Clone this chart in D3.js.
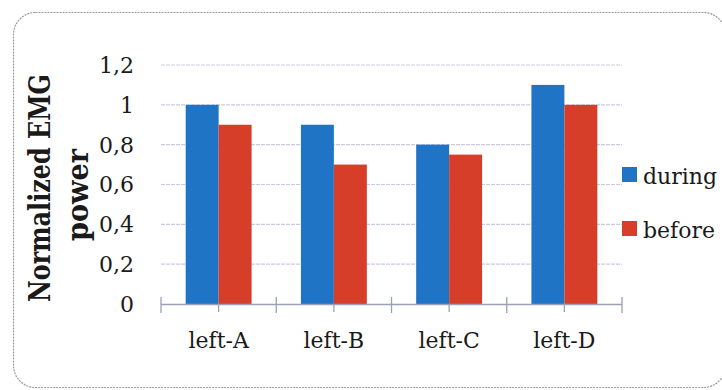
<!DOCTYPE html>
<html>
<head>
<meta charset="utf-8">
<script src="https://cdn.jsdelivr.net/npm/d3@7"></script>
<style>
  html, body { margin: 0; padding: 0; background: #ffffff; }
  svg { display: block; }
</style>
</head>
<body>
<svg id="chart" width="722" height="390"></svg>
<script>
// EMG power per muscle site, normalized
const categories = ["left-A", "left-B", "left-C", "left-D"];
const seriesNames = ["during", "before"];
const duringValues = [1.0, 0.9, 0.8, 1.1];
const beforeValues = [0.9, 0.7, 0.75, 1.0];
const yTickValues = [0, 0.2, 0.4, 0.6, 0.8, 1.0, 1.2];
const yTickLabels = ["0", "0,2", "0,4", "0,6", "0,8", "1", "1,2"];
const yTitleLines = ["Normalized EMG", "power"];

const colors = { during: "#1f74c6", before: "#d63e2a" };
const serif = "'DejaVu Serif', 'Liberation Serif', serif";

const svg = d3.select("#chart");

// Rounded frame around the chart
svg.append("rect")
  .attr("x", 13.5).attr("y", 12.5)
  .attr("width", 712).attr("height", 375)
  .attr("rx", 22).attr("ry", 22)
  .attr("fill", "none")
  .attr("stroke", "#9a9a9a")
  .attr("stroke-width", 1.2)
  .attr("stroke-dasharray", "2,1");

const plot = { left: 161, right: 622, top: 65, bottom: 304 };

const x = d3.scaleBand()
  .domain(categories)
  .range([plot.left, plot.right])
  .paddingInner(0.428)
  .paddingOuter(0.214);

const xSub = d3.scaleBand()
  .domain(seriesNames)
  .range([0, x.bandwidth()]);

const y = d3.scaleLinear()
  .domain([0, 1.2])
  .range([plot.bottom, plot.top]);

// Horizontal gridlines
svg.append("g")
  .selectAll("line")
  .data(yTickValues.filter(v => v > 0))
  .join("line")
  .attr("x1", plot.left).attr("x2", plot.right)
  .attr("y1", d => y(d)).attr("y2", d => y(d))
  .attr("stroke", "#c9cbe0")
  .attr("stroke-width", 1.2)
  .attr("stroke-dasharray", "4,1");

// Bars
const rows = categories.map((c, i) => ({
  category: c,
  values: [
    { key: "during", value: duringValues[i] },
    { key: "before", value: beforeValues[i] }
  ]
}));

svg.append("g")
  .selectAll("g")
  .data(rows)
  .join("g")
  .attr("transform", d => `translate(${x(d.category)},0)`)
  .selectAll("rect")
  .data(d => d.values)
  .join("rect")
  .attr("x", d => xSub(d.key))
  .attr("y", d => y(d.value))
  .attr("width", xSub.bandwidth())
  .attr("height", d => y(0) - y(d.value))
  .attr("fill", d => colors[d.key]);

// Category axis: baseline with boundary ticks and short centre ticks
const axisColor = "#9ba0b8";
const xAxis = svg.append("g");
xAxis.append("line")
  .attr("x1", plot.left).attr("x2", plot.right)
  .attr("y1", y(0) + 0.5).attr("y2", y(0) + 0.5)
  .attr("stroke", axisColor).attr("stroke-width", 1.3);

const step = x.step();
const boundaries = d3.range(categories.length + 1).map(i => plot.left + i * step);
xAxis.selectAll("line.major")
  .data(boundaries)
  .join("line")
  .attr("class", "major")
  .attr("x1", d => d).attr("x2", d => d)
  .attr("y1", y(0) - 7).attr("y2", y(0) + 9)
  .attr("stroke", axisColor).attr("stroke-width", 1.3);

xAxis.selectAll("line.minor")
  .data(categories)
  .join("line")
  .attr("class", "minor")
  .attr("x1", d => x(d) + x.bandwidth() / 2).attr("x2", d => x(d) + x.bandwidth() / 2)
  .attr("y1", y(0) + 1).attr("y2", y(0) + 8)
  .attr("stroke", axisColor).attr("stroke-width", 1.3);

xAxis.selectAll("text")
  .data(categories)
  .join("text")
  .attr("x", d => x(d) + x.bandwidth() / 2)
  .attr("y", 348)
  .attr("text-anchor", "middle")
  .attr("font-family", serif)
  .attr("font-size", 22)
  .attr("fill", "#1a1a1a")
  .text(d => d);

// Value axis labels
svg.append("g")
  .selectAll("text")
  .data(yTickValues)
  .join("text")
  .attr("x", 134)
  .attr("y", d => y(d))
  .attr("dy", "0.36em")
  .attr("text-anchor", "end")
  .attr("font-family", serif)
  .attr("font-size", 22)
  .attr("fill", "#1a1a1a")
  .text((d, i) => yTickLabels[i]);

// Value axis title (two rotated lines, condensed to fit the axis height)
const titleSpecs = [
  { text: yTitleLines[0], baseline: 50, center: 188, length: 228 },
  { text: yTitleLines[1], baseline: 88, center: 195, length: 92 }
];
svg.append("g")
  .selectAll("text")
  .data(titleSpecs)
  .join("text")
  .attr("transform", d => `translate(${d.baseline},${d.center}) rotate(-90)`)
  .attr("x", 0)
  .attr("text-anchor", "middle")
  .attr("font-family", serif)
  .attr("font-weight", "bold")
  .attr("font-size", 30)
  .attr("fill", "#1a1a1a")
  .attr("textLength", d => d.length)
  .attr("lengthAdjust", "spacingAndGlyphs")
  .text(d => d.text);

// Legend
const legend = svg.append("g")
  .selectAll("g")
  .data(seriesNames)
  .join("g")
  .attr("transform", (d, i) => `translate(622,${167 + i * 54})`);

legend.append("rect")
  .attr("width", 15).attr("height", 15)
  .attr("fill", d => colors[d]);

legend.append("text")
  .attr("x", 21).attr("y", 17)
  .attr("font-family", serif)
  .attr("font-size", 22)
  .attr("fill", "#1a1a1a")
  .text(d => d);
</script>
</body>
</html>
